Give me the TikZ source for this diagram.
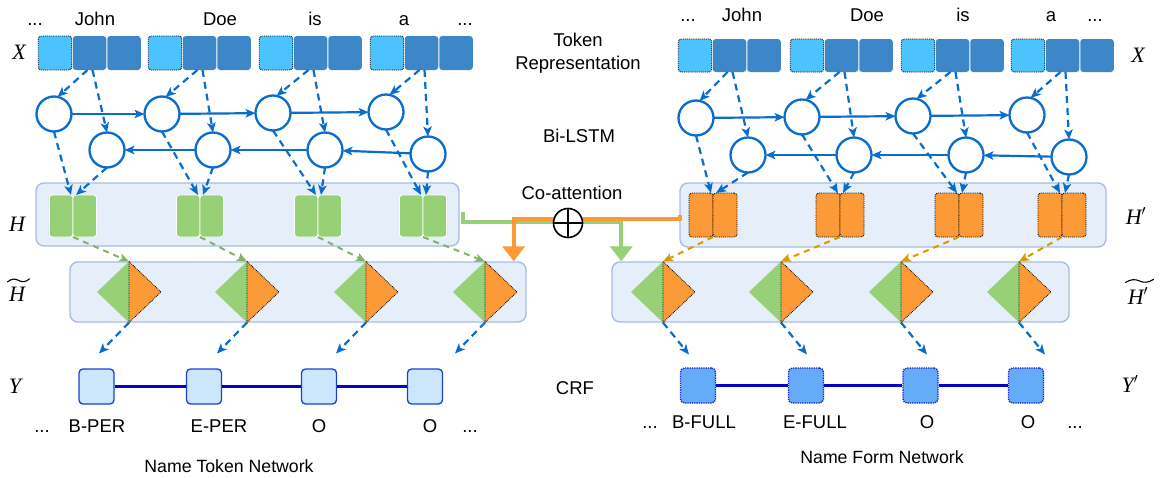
\documentclass[tikz,border=0pt]{standalone}
\usepackage{fontspec}
\setmainfont{Liberation Sans}
\newfontfamily\mathlbl{Liberation Serif}
\usetikzlibrary{arrows.meta,calc}

\definecolor{tokLight}{HTML}{4CC2FF}
\definecolor{tokDark}{HTML}{3D87C8}
\definecolor{lstm}{HTML}{0A6CCD}
\definecolor{panelFill}{HTML}{E6EEFA}
\definecolor{panelLine}{HTML}{A8BEDF}
\definecolor{leafGreen}{HTML}{97D077}
\definecolor{leafOrange}{HTML}{FD9A38}
\definecolor{greenArrow}{HTML}{82B366}
\definecolor{goldArrow}{HTML}{D79B00}
\definecolor{tagFill}{HTML}{CCE6FB}
\definecolor{tagLine}{HTML}{1B3FD8}
\definecolor{formFill}{HTML}{64ABF8}
\definecolor{formLine}{HTML}{1A1AD0}
\definecolor{crfLine}{HTML}{0303C8}

\begin{document}
\begin{tikzpicture}[x=1pt,y=-1pt,
  txt/.style={font=\fontsize{18.5}{23}\selectfont, inner sep=0pt, anchor=base},
  ttl/.style={font=\fontsize{17.7}{21}\selectfont, inner sep=0pt, anchor=base},
  sym/.style={font=\fontsize{22}{26}\selectfont\mathlbl\itshape, inner sep=0pt, anchor=base},
  tokl/.style={rectangle, rounded corners=3pt, fill=tokLight, draw=black, densely dotted, line width=0.9pt, minimum width=33.5pt, minimum height=34pt, inner sep=0pt, outer sep=0pt},
  tokd/.style={rectangle, rounded corners=3pt, fill=tokDark, minimum width=33.5pt, minimum height=34pt, inner sep=0pt, outer sep=0pt},
  cell/.style={circle, draw=lstm, line width=2.3pt, fill=white, minimum size=35pt, inner sep=0pt, outer sep=0pt},
  panel/.style={rectangle, rounded corners=8pt, fill=panelFill, draw=panelLine, line width=1.4pt, inner sep=0pt},
  hg/.style={rectangle, rounded corners=3pt, fill=leafGreen, draw=white, line width=0.8pt, minimum width=23.5pt, minimum height=42pt, inner sep=0pt, outer sep=0pt},
  ho/.style={rectangle, rounded corners=3pt, fill=leafOrange, draw=black, densely dotted, line width=0.9pt, minimum width=24pt, minimum height=44pt, inner sep=0pt, outer sep=0pt},
  diam/.style={rectangle, minimum width=64pt, minimum height=61pt, inner sep=0pt, outer sep=0pt},
  tagbox/.style={rectangle, rounded corners=4pt, fill=tagFill, draw=tagLine, line width=1.3pt, minimum size=35pt, inner sep=0pt},
  formbox/.style={rectangle, rounded corners=4pt, fill=formFill, draw=formLine, densely dotted, line width=1.3pt, minimum size=35pt, inner sep=0pt},
  headB/.style={-{Stealth[length=10pt,width=8.5pt,inset=2.5pt]}},
  bflow/.style={headB, draw=lstm, line width=2.2pt},
  bdash/.style={bflow, dash pattern=on 7pt off 5pt},
  gdash/.style={headB, draw=greenArrow, line width=2pt, dash pattern=on 6pt off 5pt},
  odash/.style={headB, draw=goldArrow, line width=2pt, dash pattern=on 6pt off 5pt},
  crf/.style={draw=crfLine, line width=3pt},
  coG/.style={draw=leafGreen, line width=4pt, -{Triangle[length=15pt,width=22pt]}},
  coO/.style={draw=leafOrange, line width=4pt, -{Triangle[length=15pt,width=22pt]}},
  tri/.style={draw=black, densely dotted, line width=0.8pt, fill=leafOrange},
  ztilde/.pic={\draw[line width=1.1pt, line cap=round] (-1,0.25) .. controls (-0.6,-0.35) and (-0.3,-0.3) .. (0,0) .. controls (0.3,0.3) and (0.6,0.35) .. (1,-0.25);},
]
\useasboundingbox (0,0) rectangle (1164,477);

% ---------- panels ----------
\node[panel, minimum width=423pt, minimum height=63pt] (hbL)  at (247.5,214.5) {};
\node[panel, minimum width=456pt, minimum height=60pt] (hbL2) at (298,292) {};
\node[panel, minimum width=426pt, minimum height=64pt] (hbR)  at (893,215) {};
\node[panel, minimum width=457pt, minimum height=60pt] (hbR2) at (840.5,292) {};

% ---------- token representation ----------
\foreach \i/\s in {1/38,2/148,3/259,4/370}{
  \node[tokl] (tokL\i a) at (\s+17,53) {};
  \node[tokd] (tokL\i b) at (\s+51.5,53) {};
  \node[tokd] (tokL\i c) at (\s+86,53) {};
}
\foreach \i/\s in {1/678,2/790,3/901,4/1011}{
  \node[tokl, minimum height=33pt] (tokR\i a) at (\s+17,55.5) {};
  \node[tokd, minimum height=33pt] (tokR\i b) at (\s+51.5,55.5) {};
  \node[tokd, minimum height=33pt] (tokR\i c) at (\s+86,55.5) {};
}

% ---------- hidden states ----------
\foreach \i/\x in {1/73,2/200,3/318,4/423}{
  \node[hg] (hL\i a) at (\x-11.75,216) {};
  \node[hg] (hL\i b) at (\x+11.75,216) {};
}
\foreach \i/\x in {1/713,2/840,3/959,4/1062}{
  \node[ho] (hR\i a) at (\x-12,215) {};
  \node[ho] (hR\i b) at (\x+12,215) {};
}

% ---------- fused representations ----------
\foreach \i/\x in {1/129,2/247,3/366,4/485}{
  \node[diam] (dL\i) at (\x,292) {};
  \fill[leafGreen] (dL\i.north) -- (dL\i.west) -- (dL\i.south) -- cycle;
  \draw[tri] (dL\i.north) -- (dL\i.east) -- (dL\i.south) -- cycle;
}
\foreach \i/\x in {1/663,2/781,3/901,4/1019}{
  \node[diam] (dR\i) at (\x,292) {};
  \fill[leafGreen] (dR\i.north) -- (dR\i.west) -- (dR\i.south) -- cycle;
  \draw[tri] (dR\i.north) -- (dR\i.east) -- (dR\i.south) -- cycle;
}

% ---------- Bi-LSTM cells ----------
\foreach \i/\x/\y in {1/54/114,2/162/114,3/273/113,4/386/112}
  \node[cell] (cTL\i) at (\x,\y) {};
\foreach \i/\x/\y in {1/107/150,2/213/150,3/325/150,4/428/154}
  \node[cell] (cBL\i) at (\x,\y) {};
\foreach \i/\x/\y in {1/696/118,2/802/117,3/913/116,4/1027/115}
  \node[cell] (cTR\i) at (\x,\y) {};
\foreach \i/\x/\y in {1/748/155,2/854/155,3/966/155,4/1069/157}
  \node[cell] (cBR\i) at (\x,\y) {};

\foreach \i/\j in {1/2,2/3,3/4}{
  \draw[bflow] (cTL\i) -- (cTL\j);
  \draw[bflow] (cBL\j) -- (cBL\i);
  \draw[bflow] (cTR\i) -- (cTR\j);
  \draw[bflow] (cBR\j) -- (cBR\i);
}

% token -> cells -> hidden states -> fused -> tags
\foreach \i in {1,2,3,4}{
  \draw[bdash] ($(tokL\i b.south)+(-2,0)$) -- (cTL\i.78);
  \draw[bdash] ($(tokL\i b.south)+(3,0)$) -- (cBL\i.north);
  \draw[bdash] ($(tokR\i b.south)+(-2,0)$) -- (cTR\i.78);
  \draw[bdash] ($(tokR\i b.south)+(3,0)$) -- (cBR\i.north);
  \draw[bdash] (cTL\i.south) -- ($(hL\i a.north east)+(-2,0)$);
  \draw[bdash] (cBL\i.south) -- ($(hL\i b.north west)+(3,0)$);
  \draw[bdash] (cTR\i.south) -- ($(hR\i a.north east)+(-2,0)$);
  \draw[bdash] (cBR\i.south) -- ($(hR\i b.north west)+(3,0)$);
  \draw[gdash] (hL\i b.south west) -- (dL\i.north);
  \draw[odash] (hR\i b.south west) -- (dR\i.north);
  \coordinate (oL\i) at ($(dL\i.south)+(-30,31)$);
  \coordinate (oR\i) at ($(dR\i.south)+(26,32)$);
  \draw[bdash] (dL\i.south) -- (oL\i);
  \draw[bdash] (dR\i.south) -- (oR\i);
}

% ---------- CRF ----------
\foreach \i/\x in {1/96.5,2/204,3/319,4/425}
  \node[tagbox] (yL\i) at (\x,386.5) {};
\foreach \i/\x in {1/698,2/806,3/920.5,4/1026}
  \node[formbox] (yR\i) at (\x,385.5) {};
\foreach \i/\j in {1/2,2/3,3/4}{
  \draw[crf] (yL\i) -- (yL\j);
  \draw[crf] (yR\i) -- (yR\j);
}

% ---------- co-attention ----------
\draw[coG] ($(hbL.east)+(3,-2.5)$) -- ++(0,10) -| ([xshift=10pt]hbR2.north west);
\draw[coO] ($(hbR.west)+(1,0)$) -- ++(0,4) -| ([xshift=-13pt]hbL2.north east);
\node[circle, draw=black, line width=1.6pt, fill=white, minimum size=29pt, inner sep=0pt] (fuse) at (568,223) {};
\draw[line width=1.6pt] (fuse.north) -- (fuse.south) (fuse.west) -- (fuse.east);

% ---------- texts ----------
\node[txt] (wL0) at (35,25) {...};
\node[txt] (wL1) at (95,25) {John};
\node[txt] (wL2) at (220,25) {Doe};
\node[txt] (wL3) at (315,25) {is};
\node[txt] (wL4) at (404,25) {a};
\node[txt] (wL5) at (465,25) {...};
\node[txt] (wR0) at (688,21) {...};
\node[txt] (wR1) at (742,21) {John};
\node[txt] (wR2) at (867,21) {Doe};
\node[txt] (wR3) at (963,21) {is};
\node[txt] (wR4) at (1051,21) {a};
\node[txt] (wR5) at (1095,21) {...};

\node[txt] (tr1) at (578,46.7) {Token};
\node[txt] (tr2) at (578,69.7) {Representation};
\node[txt] (bil) at (579,142.7) {Bi-LSTM};
\node[txt] (coa) at (572,199.7) {Co-attention};
\node[txt] (crfl) at (575,394.7) {CRF};

\node[txt] (lL0) at (42,432) {...};
\node[txt] (lL1) at (97,432) {B-PER};
\node[txt] (lL2) at (219,432) {E-PER};
\node[txt] (lL3) at (319,432) {O};
\node[txt] (lL4) at (430,432) {O};
\node[txt] (lL5) at (470,432) {...};
\node[txt] (lR0) at (650,428) {...};
\node[txt] (lR1) at (704,428) {B-FULL};
\node[txt] (lR2) at (815,428) {E-FULL};
\node[txt] (lR3) at (927,428) {O};
\node[txt] (lR4) at (1028,428) {O};
\node[txt] (lR5) at (1075,428) {...};

\node[ttl] (ntn) at (229,472) {Name Token Network};
\node[ttl] (nfn) at (882,463) {Name Form Network};

% layer symbols
\node[sym] (sX)  at (19,59.5) {X};
\node[sym] (sH)  at (17,231) {H};
\node[sym] (sHt) at (17,301) {H};
\pic[xscale=11, yscale=6] at ($(sHt.north)+(1.5,-6)$) {ztilde};
\node[sym] (sY)  at (15,393.5) {Y};
\node[sym] (sX2) at (1138,62.5) {X};
\node[sym] (sH2) at (1136,224.5) {$\mbox{H}'$};
\node[sym] (sHt2) at (1138,304) {$\mbox{H}'$};
\pic[xscale=14, yscale=6] at ($(sHt2.north)+(1.5,-6)$) {ztilde};
\node[sym] (sY2) at (1130,392.5) {$\mbox{Y}'$};
\end{tikzpicture}
\end{document}
